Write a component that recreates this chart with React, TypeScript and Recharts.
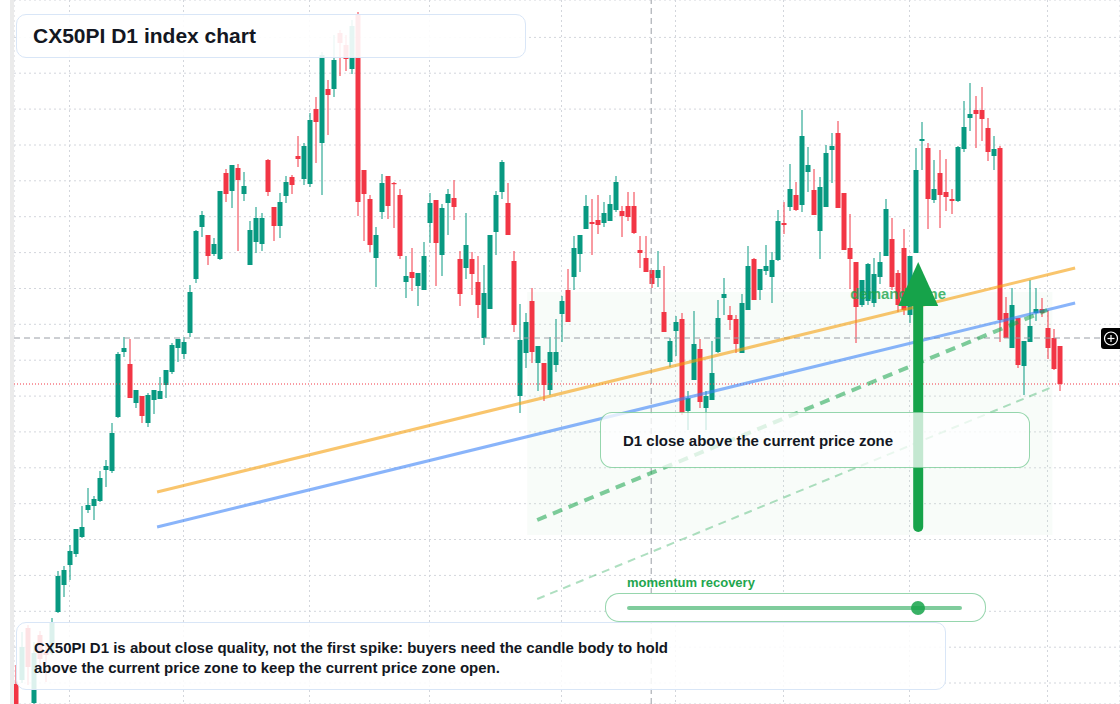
import React from "react";
import {
  Bar,
  CartesianGrid,
  ComposedChart,
  ReferenceArea,
  ReferenceDot,
  ReferenceLine,
  XAxis,
  YAxis,
} from "recharts";

// daily OHLC, oldest first (price units)
const opens = [
  316, 320, 372, 297, 365, 349, 347, 388, 415, 435, 446, 463, 490, 494, 499, 530, 529, 583, 648, 636,
  597, 604, 577, 600, 601, 615, 628, 652, 646, 667, 721, 773, 765, 746, 741, 827, 809, 832, 806, 735,
  758, 756, 840, 793, 774, 804, 823, 844, 821, 816, 891, 857, 911, 911, 967, 955, 931, 985, 830, 801,
  742, 788, 824, 817, 805, 718, 728, 714, 710, 777, 800, 745, 797, 802, 741, 732, 741, 718, 662, 691,
  768, 808, 797, 739, 604, 647, 699, 637, 637, 610, 635, 686, 710, 723, 746, 771, 778, 780, 777, 779,
  790, 789, 794, 794, 750, 742, 730, 722, 688, 638, 669, 681, 589, 620, 651, 592, 600, 648, 702, 685,
  681, 647, 690, 741, 710, 729, 723, 740, 777, 793, 805, 795, 828, 810, 769, 793, 850, 867, 807, 752,
  738, 695, 699, 697, 723, 744, 761, 727, 752, 685, 747, 859, 852, 800, 827, 808, 801, 799, 851, 882,
  890, 890, 872, 844, 852, 687, 652, 682, 634, 658, 687, 691, 672, 662, 654,
];
const highs = [
  335, 368, 375, 358, 369, 357, 382, 429, 434, 455, 471, 494, 512, 504, 529, 540, 577, 648, 663, 661,
  610, 604, 607, 610, 623, 630, 657, 661, 663, 715, 770, 789, 765, 762, 809, 831, 835, 836, 828, 779,
  793, 787, 841, 793, 807, 824, 825, 864, 857, 887, 903, 948, 920, 965, 970, 965, 980, 988, 830, 805,
  773, 826, 824, 818, 811, 744, 752, 727, 758, 807, 800, 796, 811, 820, 749, 787, 748, 744, 735, 765,
  809, 840, 817, 749, 696, 687, 712, 654, 637, 663, 681, 704, 731, 764, 765, 805, 801, 805, 798, 805,
  824, 794, 808, 808, 764, 764, 730, 749, 734, 662, 684, 687, 609, 689, 661, 609, 659, 700, 722, 694,
  685, 706, 754, 742, 731, 755, 748, 790, 798, 836, 818, 890, 853, 831, 823, 855, 867, 879, 807, 786,
  738, 720, 737, 742, 748, 801, 782, 730, 771, 744, 852, 878, 857, 840, 850, 841, 811, 854, 899, 917,
  904, 913, 882, 864, 854, 703, 712, 682, 659, 720, 712, 702, 690, 671, 654,
];
const lows = [
  280, 317, 315, 295, 328, 318, 345, 387, 403, 420, 443, 462, 487, 480, 498, 513, 527, 582, 643, 602,
  592, 577, 573, 586, 601, 602, 626, 638, 641, 663, 717, 763, 735, 744, 740, 798, 792, 749, 799, 735,
  747, 749, 804, 759, 762, 797, 806, 833, 815, 813, 837, 805, 865, 903, 924, 929, 926, 784, 759, 748,
  713, 781, 781, 772, 741, 702, 709, 694, 710, 757, 714, 724, 765, 780, 694, 721, 705, 682, 655, 691,
  745, 801, 765, 668, 587, 632, 637, 609, 599, 605, 628, 658, 678, 710, 728, 771, 745, 766, 773, 779,
  788, 763, 779, 766, 732, 728, 712, 713, 668, 633, 644, 585, 570, 620, 592, 570, 600, 647, 685, 670,
  647, 647, 690, 700, 700, 725, 697, 739, 766, 789, 789, 788, 808, 785, 741, 793, 817, 792, 750, 711,
  657, 693, 695, 693, 716, 744, 710, 688, 685, 677, 747, 830, 771, 797, 772, 789, 786, 798, 848, 869,
  852, 859, 839, 830, 658, 662, 652, 632, 605, 658, 679, 683, 641, 630, 609,
];
const closes = [
  288, 353, 333, 347, 341, 345, 378, 424, 430, 449, 471, 473, 495, 501, 522, 534, 567, 646, 652, 602,
  610, 584, 605, 610, 609, 630, 655, 661, 658, 708, 769, 785, 744, 756, 809, 806, 835, 820, 814, 770,
  782, 782, 808, 774, 798, 818, 815, 841, 854, 880, 878, 945, 905, 940, 957, 941, 974, 798, 806, 755,
  765, 817, 794, 816, 744, 724, 722, 727, 744, 797, 757, 792, 806, 793, 706, 755, 726, 695, 707, 765,
  805, 838, 765, 675, 660, 678, 648, 654, 615, 648, 648, 699, 678, 752, 765, 794, 776, 775, 787, 796,
  818, 784, 783, 767, 747, 728, 716, 730, 668, 659, 678, 587, 602, 656, 598, 604, 627, 682, 706, 680,
  656, 697, 734, 700, 731, 734, 740, 779, 775, 811, 790, 864, 835, 785, 813, 847, 854, 792, 750, 741,
  693, 720, 736, 726, 738, 791, 713, 695, 690, 744, 830, 861, 801, 811, 805, 803, 799, 853, 873, 886,
  886, 881, 848, 851, 680, 662, 695, 635, 659, 674, 691, 687, 652, 631, 616,
];

// month separators (candle index) and horizontal grid levels
const monthTicks = [9, 28, 49, 69, 91, 110, 128, 149, 172];
const priceTicks = [
  998.5, 962.6, 926.8, 890.9, 855, 819.2, 783.3, 747.4, 711.5, 675.7, 639.8, 603.9, 568.1, 532.2,
  496.3, 460.5, 424.6, 388.7, 352.8, 317,
];

// annotation anchors (candle index / price)
const resistance = [{ x: 23.6, y: 508 }, { x: 176.6, y: 732 }];
const support = [{ x: 23.6, y: 473 }, { x: 176.6, y: 697 }];
const momentumPath = [{ x: 86.95, y: 480 }, { x: 171.95, y: 690 }];
const lowerPath = [{ x: 86.95, y: 401 }, { x: 172.4, y: 612 }];
const demandZone = { x1: 85.3, x2: 172.8, y1: 465, y2: 708 };
const arrowX = 150.45;
const arrowFrom = 473;
const arrowTo = 696;
const crossX = 105.95;
const crossY = 662;

const UP = "#089981";
const DOWN = "#f23645";
const GREEN = "#16a34a";
const FONT = '"Liberation Sans", Arial, Helvetica, sans-serif';

const candles = opens.map((open, i) => ({
  i,
  open,
  high: highs[i],
  low: lows[i],
  close: closes[i],
  range: [lows[i], highs[i]],
}));
const lastClose = closes[closes.length - 1];

const Candle = (props: any) => {
  const { x, y, width, height, payload } = props;
  if (x == null || y == null) return null;
  const cx = x + width / 2;
  const top = Math.min(y, y + height);
  const h = Math.abs(height);
  const span = payload.high - payload.low || 1;
  const py = (v: number) => top + ((payload.high - v) / span) * h;
  const up = payload.close >= payload.open;
  const color = up ? UP : DOWN;
  const bTop = py(Math.max(payload.open, payload.close));
  const bBot = py(Math.min(payload.open, payload.close));
  return (
    <g>
      <line x1={cx} x2={cx} y1={top} y2={top + h} stroke={color} strokeWidth={1} />
      <rect x={cx - 2.5} y={bTop} width={5} height={Math.max(1.2, bBot - bTop)} fill={color} />
    </g>
  );
};

const ArrowHead = (props: any) => {
  const { cx, cy } = props;
  return <polygon points={`${cx - 20},${cy} ${cx + 20},${cy} ${cx},${cy - 44}`} fill={GREEN} />;
};

const DemandLabel = (props: any) => {
  const { cx, cy } = props;
  return (
    <text
      x={cx}
      y={cy}
      textAnchor="middle"
      dominantBaseline="central"
      fontFamily={FONT}
      fontWeight={700}
      fontSize={15}
      fill={GREEN}
      fillOpacity={0.8}
    >
      demand zone
    </text>
  );
};

const box = (extra: React.CSSProperties): React.CSSProperties => ({
  position: "absolute",
  boxSizing: "border-box",
  fontFamily: FONT,
  fontWeight: 700,
  color: "#131722",
  ...extra,
});

export default function App() {
  return (
    <div
      style={{
        position: "absolute",
        left: 0,
        top: 0,
        width: 1120,
        height: 704,
        overflow: "hidden",
        background: "#ffffff",
        fontFamily: FONT,
      }}
    >
      <div style={{ position: "absolute", left: 10, top: 0, width: 4, height: 704, background: "#ebebeb" }} />
      <div style={{ position: "absolute", left: 14, top: 0 }}>
        <ComposedChart
          width={1106}
          height={704}
          data={candles}
          margin={{ top: 0, right: 0, bottom: 0, left: 0 }}
        >
          <CartesianGrid stroke="#d3d6dc" strokeDasharray="2 3" />
          <XAxis
            dataKey="i"
            type="number"
            domain={[-0.25, 184.083]}
            ticks={monthTicks}
            allowDataOverflow
            hide
          />
          <YAxis type="number" domain={[296, 1000]} ticks={priceTicks} allowDataOverflow hide />
          <Bar dataKey="range" barSize={5} shape={Candle} isAnimationActive={false} />
          <ReferenceArea
            x1={demandZone.x1}
            x2={demandZone.x2}
            y1={demandZone.y1}
            y2={demandZone.y2}
            fill="rgb(200,235,210)"
            fillOpacity={0.13}
            stroke="none"
          />
          <ReferenceLine x={crossX} stroke="#9a9ea6" strokeDasharray="6 4" />
          <ReferenceLine y={crossY} stroke="#9a9ea6" strokeDasharray="6 4" />
          <ReferenceLine y={lastClose} stroke={DOWN} strokeDasharray="1 2" />
          <ReferenceLine segment={resistance} stroke="#f59e0b" strokeOpacity={0.6} strokeWidth={3} />
          <ReferenceLine segment={support} stroke="#3b82f6" strokeOpacity={0.6} strokeWidth={3} />
          <ReferenceLine
            segment={momentumPath}
            stroke={GREEN}
            strokeOpacity={0.55}
            strokeWidth={4}
            strokeDasharray="10 7"
          />
          <ReferenceLine
            segment={lowerPath}
            stroke={GREEN}
            strokeOpacity={0.35}
            strokeWidth={2}
            strokeDasharray="8 6"
          />
          <ReferenceDot x={147.1} y={707} r={1} shape={DemandLabel} />
          <ReferenceLine
            segment={[{ x: arrowX, y: arrowFrom }, { x: arrowX, y: arrowTo }]}
            stroke={GREEN}
            strokeWidth={10}
            strokeLinecap="round"
          />
          <ReferenceDot x={arrowX} y={694} r={1} shape={ArrowHead} />
        </ComposedChart>
      </div>

      <div
        style={box({
          left: 16,
          top: 14,
          width: 510,
          height: 44,
          border: "1.5px solid #d9e6f7",
          borderRadius: 10,
          background: "rgba(255,255,255,0.9)",
          display: "flex",
          alignItems: "center",
          paddingLeft: 16,
          fontSize: 21,
        })}
      >
        CX50PI D1 index chart
      </div>

      <div
        style={box({
          left: 600,
          top: 412,
          width: 430,
          height: 56,
          border: "1.5px solid rgba(22,163,74,0.45)",
          borderRadius: 12,
          background: "rgba(255,255,255,0.75)",
          display: "flex",
          alignItems: "center",
          paddingLeft: 22,
          fontSize: 15,
        })}
      >
        D1 close above the current price zone
      </div>

      <div style={box({ left: 627, top: 575, fontSize: 13, lineHeight: "16px", color: "#1fa64e" })}>
        momentum recovery
      </div>
      <div
        style={box({
          left: 605,
          top: 593,
          width: 381,
          height: 29,
          border: "1.5px solid rgba(22,163,74,0.45)",
          borderRadius: 14,
          background: "#ffffff",
        })}
      />
      <div
        style={{
          position: "absolute",
          left: 627,
          top: 606,
          width: 335,
          height: 4,
          borderRadius: 2,
          background: "rgba(22,163,74,0.55)",
        }}
      />
      <div
        style={{
          position: "absolute",
          left: 911,
          top: 601,
          width: 14,
          height: 14,
          borderRadius: "50%",
          background: "rgba(22,163,74,0.85)",
        }}
      />

      <div
        style={box({
          left: 16,
          top: 622,
          width: 930,
          height: 68,
          border: "1.5px solid #d9e6f7",
          borderRadius: 10,
          background: "rgba(255,255,255,0.86)",
          padding: "15px 0 0 17px",
          fontSize: 15,
          lineHeight: "20px",
        })}
      >
        CX50PI D1 is about close quality, not the first spike: buyers need the candle body to hold
        <br />
        above the current price zone to keep the current price zone open.
      </div>

      <div
        style={{
          position: "absolute",
          left: 1101,
          top: 328,
          width: 22,
          height: 21,
          borderRadius: 3,
          background: "#000000",
        }}
      >
        <svg width={20} height={21} style={{ position: "absolute", left: 0, top: 0 }}>
          <circle cx={10} cy={10.5} r={6.5} fill="none" stroke="#ffffff" strokeWidth={1.2} />
          <line x1={6.5} x2={13.5} y1={10.5} y2={10.5} stroke="#ffffff" strokeWidth={1.2} />
          <line x1={10} x2={10} y1={7} y2={14} stroke="#ffffff" strokeWidth={1.2} />
        </svg>
      </div>
    </div>
  );
}
